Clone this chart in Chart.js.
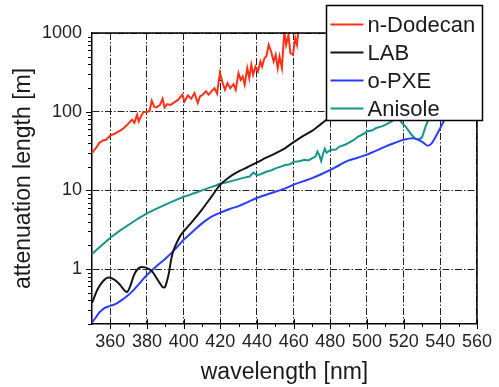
<!DOCTYPE html>
<html>
<head>
<meta charset="utf-8">
<script src="https://cdn.jsdelivr.net/npm/chart.js@4.4.0/dist/chart.umd.min.js"></script>
<style>
  html, body { margin: 0; padding: 0; background: #fff; }
</style>
</head>
<body>
<canvas id="c" width="499" height="387"></canvas>
<script>
// tick values
const xTicks = [360, 380, 400, 420, 440, 460, 480, 500, 520, 540, 560];
const yTicks = [1, 10, 100, 1000];

// n-Dodecan (noisy)
const dodecanNm = [350, 352.3, 354, 355.9, 357.7, 360, 362, 363.9, 365.6, 367.4, 369.2, 370.6, 371.9, 373.1,
  374.6, 375.5, 376.7, 378.1, 380, 381.4, 382.6, 383.9, 385.3, 387.1, 388.5, 389.6, 391, 392.8, 395.1, 396.9,
  399.2, 400.5, 402.3, 404.1, 405.9, 407.7, 408.9, 410.4, 412.2, 413.6, 415.4, 416.8, 418.2, 419.8, 421.3,
  422.5, 423.9, 425.4, 427.2, 428.4, 429.9, 431.1, 432.2, 433.3, 434.7, 435.8, 436.9, 437.9, 439.2, 440.5,
  441.9, 442.8, 444.1, 445.1, 446.4, 447.7, 449.1, 450.2, 451.3, 452.3, 453.6, 454.9, 455.9, 457.2, 458.2,
  459.6, 460.9, 461.8, 463];
const dodecanLen = [30, 35, 40, 43, 44, 50, 52, 55, 58, 62, 68, 74, 79, 72,
  91, 75, 87, 99, 99, 102, 138, 116, 113, 122, 146, 113, 125, 122, 132, 141,
  164, 135, 161, 146, 172, 129, 156, 164, 181, 164, 184, 199, 170, 310, 231,
  190, 231, 199, 224, 190, 309, 254, 280, 220, 358, 267, 394, 294, 375, 325,
  434, 375, 480, 503, 709, 582, 434, 528, 358, 503, 358, 1050, 709, 948, 556,
  528, 860, 709, 1300];

// LAB
const labNm = [350, 353, 356, 359, 362, 365, 367, 369, 371, 373, 375, 377, 379, 381, 383, 385, 387, 389, 390,
  391, 392, 393, 394, 396, 398, 400, 405, 410, 415, 420, 425, 430, 435, 440, 445, 450, 455, 460, 465, 470,
  475, 480, 490, 500, 520, 540, 560];
const labLen = [0.37, 0.55, 0.70, 0.78, 0.74, 0.64, 0.56, 0.51, 0.62, 0.85, 1.0, 1.06, 1.05, 1.0, 0.92, 0.78,
  0.66, 0.58, 0.60, 0.72, 0.9, 1.25, 1.6, 2.1, 2.6, 3.0, 4.1, 5.7, 8.2, 11.8, 14.8, 17.4, 19.8, 22.6, 26, 29.5,
  34, 41, 49, 57, 70, 85, 98, 105, 120, 125, 130];

// o-PXE
const pxeNm = [350, 352, 354, 357, 360, 363, 366, 369, 372, 375, 378, 380, 385, 390, 395, 400, 405, 410, 415,
  420, 425, 430, 435, 440, 445, 450, 455, 460, 465, 470, 475, 480, 485, 490, 495, 500, 505, 510, 515, 520,
  525, 528, 531, 533, 535, 537, 540, 543, 546, 550, 555, 560];
const pxeLen = [0.21, 0.24, 0.28, 0.32, 0.34, 0.36, 0.40, 0.45, 0.52, 0.62, 0.75, 0.84, 1.08, 1.35, 1.75,
  2.35, 3.0, 3.8, 4.6, 5.2, 5.8, 6.3, 7.1, 8.0, 8.8, 9.6, 10.5, 11.8, 13, 14.3, 16, 18.2, 21, 24, 26, 28.5,
  32, 36, 40, 44, 46, 44, 40, 37, 39, 46, 62, 85, 110, 150, 220, 500];

// Anisole
const anisoleNm = [350, 355, 360, 365, 370, 375, 380, 385, 390, 395, 400, 403, 405, 407, 410, 413, 415, 418,
  420, 423, 426, 430, 433, 436, 438, 440, 442, 445, 448, 450, 453, 455, 458, 460, 463, 466, 468, 470, 472,
  473, 474, 475, 476, 477, 478, 480, 483, 485, 488, 490, 493, 495, 498, 500, 503, 505, 508, 510, 513, 515,
  517, 519, 521, 524, 526, 528, 530, 532, 534, 537, 540];
const anisoleLen = [1.55, 1.98, 2.5, 3.05, 3.65, 4.35, 5.1, 5.8, 6.6, 7.4, 8.3, 8.7, 9.1, 9.4, 10.0, 10.6,
  11.0, 11.6, 12.2, 12.6, 13.1, 13.9, 14.5, 15.0, 16.8, 15.6, 16.0, 17.2, 18.0, 19.0, 20, 20.8, 21.5, 23,
  23.5, 24.5, 24, 25.5, 27, 31, 28, 23.5, 29, 34, 30, 32.5, 33, 36, 38, 40, 44, 48, 52, 56, 58, 62, 65, 68,
  74, 79, 85, 72, 65, 52, 46, 44, 47, 65, 85, 120, 150];

const FONT = "'Liberation Sans', Arial, sans-serif";

function pts(xs, ys) {
  return xs.map((x, i) => ({ x, y: ys[i] }));
}

function line(label, xs, ys, color, smooth) {
  return {
    label,
    data: pts(xs, ys),
    borderColor: color,
    backgroundColor: color,
    borderWidth: 2,
    pointRadius: 0,
    fill: false,
    tension: 0,
    cubicInterpolationMode: smooth ? "monotone" : "default",
    clip: 1,
  };
}

// frame, small tick marks and the boxed legend
const decor = {
  id: "decor",
  afterDraw(chart) {
    const { ctx, chartArea: a, scales } = chart;
    const sx = scales.x, sy = scales.y;
    ctx.save();
    ctx.strokeStyle = "#000";
    ctx.lineWidth = 1;
    ctx.beginPath();
    for (let v = 360; v <= 560; v += 10) {
      const px = Math.round(sx.getPixelForValue(v)) + 0.5;
      if (v % 20 === 0) { ctx.moveTo(px, a.bottom - 5); ctx.lineTo(px, a.bottom + 5); }
      else { ctx.moveTo(px, a.bottom); ctx.lineTo(px, a.bottom + 3); }
    }
    [0.1, 1, 10, 100].forEach(d => {
      for (let k = 1; k <= 9; k++) {
        const v = k * d;
        if (v < 0.2 || v > 1000) continue;
        const py = Math.round(sy.getPixelForValue(v)) + 0.5;
        const len = k === 1 ? 6 : 4;
        ctx.moveTo(a.left - len, py); ctx.lineTo(a.left, py);
      }
    });
    ctx.stroke();

    ctx.lineWidth = 1.5;
    ctx.beginPath();
    ctx.moveTo(a.left, a.top); ctx.lineTo(a.right, a.top); ctx.lineTo(a.right, a.bottom);
    ctx.stroke();

    // legend box
    const bx = 326.5, by = 5.5, bw = 156, bh = 115;
    ctx.fillStyle = "#fff";
    ctx.fillRect(bx, by, bw, bh);
    ctx.strokeRect(bx, by, bw, bh);
    ctx.font = "22px " + FONT;
    ctx.textBaseline = "middle";
    ctx.textAlign = "left";
    chart.data.datasets.forEach((ds, i) => {
      const y = by + 19 + i * 28;
      ctx.strokeStyle = ds.borderColor;
      ctx.lineWidth = 2;
      ctx.beginPath();
      ctx.moveTo(bx + 4, y); ctx.lineTo(bx + 37, y);
      ctx.stroke();
      ctx.fillStyle = "#1a1a1a";
      ctx.fillText(ds.label, bx + 41, y + 1);
    });
    ctx.restore();
  },
};

new Chart(document.getElementById("c"), {
  type: "line",
  data: {
    datasets: [
      line("n-Dodecan", dodecanNm, dodecanLen, "#ff3219", false),
      line("LAB", labNm, labLen, "#141414", true),
      line("o-PXE", pxeNm, pxeLen, "#2b3cff", true),
      line("Anisole", anisoleNm, anisoleLen, "#17958d", false),
    ],
  },
  options: {
    responsive: false,
    animation: false,
    layout: { padding: { left: 0, right: 16, top: 33, bottom: 0 } },
    plugins: { legend: { display: false }, tooltip: { enabled: false } },
    scales: {
      x: {
        type: "linear",
        min: 350,
        max: 560,
        afterBuildTicks: s => { s.ticks = xTicks.map(v => ({ value: v })); },
        afterFit: s => { s.height = 63; },
        grid: { color: "#222", lineWidth: 1, drawTicks: false },
        border: { display: true, color: "#000", width: 1.5, dash: [7, 2, 1.5, 2] },
        ticks: { color: "#222", padding: 7, font: { family: FONT, size: 18 }, maxRotation: 0 },
        title: {
          display: true,
          text: "wavelength [nm]",
          color: "#1a1a1a",
          font: { family: FONT, size: 23 },
          padding: { top: 0, bottom: 1 },
        },
      },
      y: {
        type: "logarithmic",
        min: 0.2,
        max: 1000,
        afterBuildTicks: s => { s.ticks = yTicks.map(v => ({ value: v })); },
        afterFit: s => { s.width = 92; },
        grid: { color: "#222", lineWidth: 1, drawTicks: false },
        border: { display: true, color: "#000", width: 1.5, dash: [7, 2, 1.5, 2] },
        ticks: { color: "#222", padding: 10, font: { family: FONT, size: 18 }, callback: v => String(v) },
        title: {
          display: true,
          text: "attenuation length [m]",
          color: "#1a1a1a",
          font: { family: FONT, size: 23 },
          padding: { top: 10, bottom: 0 },
        },
      },
    },
  },
  plugins: [decor],
});
</script>
</body>
</html>
